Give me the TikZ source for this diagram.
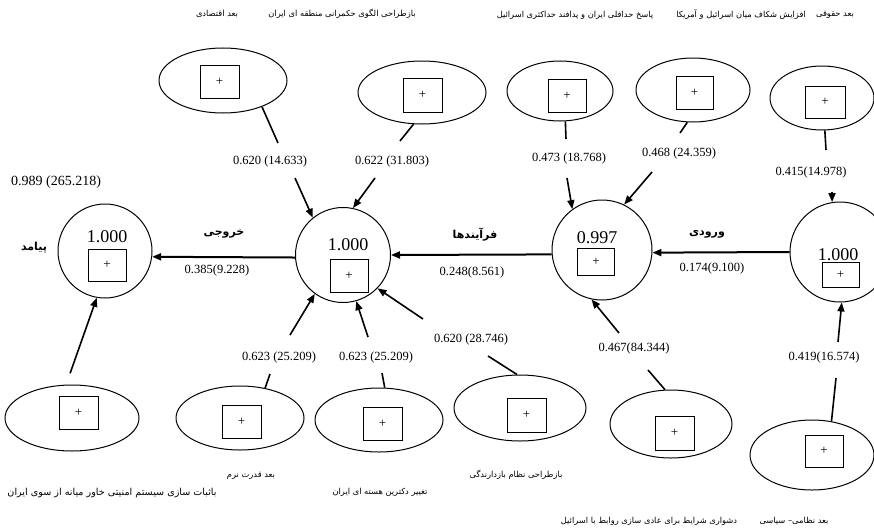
\documentclass[tikz,border=0pt]{standalone}
\usepackage{fontspec}
\setmainfont{Liberation Serif}
\newfontfamily\fafont[Script=Arabic]{DejaVu Sans}
\TeXXeTstate=1
\usetikzlibrary{arrows.meta,shapes.geometric}
\newcommand{\myrtl}[1]{\beginR #1\endR}
\begin{document}
\begin{tikzpicture}[x=1pt,y=-1pt,
  lat/.style={draw, ellipse, line width=1pt, inner sep=0pt},
  bigc/.style={draw, circle, line width=1pt, inner sep=0pt},
  pbox/.style={draw, rectangle, line width=1pt, inner sep=0pt, font=\fontsize{13}{13}\selectfont},
  num/.style={font=\fontsize{12.5}{13}\selectfont, inner sep=1pt},
  val/.style={font=\fontsize{18}{18}\selectfont, inner sep=0pt},
  fatxt/.style={font=\fontsize{8.3}{9}\fafont, inner sep=0pt},
  fabold/.style={font=\fontsize{11}{12}\fafont\bfseries, inner sep=0pt},
  conn/.style={line width=1.6pt},
  arr/.style={line width=1.6pt, -{Triangle[length=9pt,width=7pt]}},
]
\useasboundingbox (0,0) rectangle (874,527);

% big circles
\node[bigc, minimum size=94pt] (Pay) at (105,251) {};
\node[bigc, minimum size=95pt] (P) at (343,255) {};
\node[bigc, minimum size=100pt] (I) at (602,250) {};
\node[bigc, minimum size=100pt] (R) at (840,252) {};

\node[val] (vPay) at (107,237) {1.000};
\node[val] (vP) at (348,245) {1.000};
\node[val] (vI) at (597,238) {0.997};
\node[val] (vR) at (838,255) {1.000};

\node[pbox, minimum width=38pt, minimum height=32pt] (bPay) at (107,265) {+};
\node[pbox, minimum width=38pt, minimum height=33pt] (bP) at (349,275.5) {+};
\node[pbox, minimum width=37pt, minimum height=27pt] (bI) at (596,262) {+};
\node[pbox, minimum width=37pt, minimum height=25pt] (bR) at (840.5,274.5) {+};

% ellipses
\node[lat, minimum width=128pt, minimum height=65pt] (E1) at (223,80.5) {};
\node[lat, minimum width=128pt, minimum height=63pt] (E2) at (422,92.5) {};
\node[lat, minimum width=106pt, minimum height=60pt] (E3) at (560,91) {};
\node[lat, minimum width=114pt, minimum height=64pt] (E4) at (693,90) {};
\node[lat, minimum width=104pt, minimum height=64pt] (E5) at (822,98) {};
\node[lat, minimum width=134pt, minimum height=66pt] (B1) at (72,418) {};
\node[lat, minimum width=128pt, minimum height=64pt] (B2) at (240,418) {};
\node[lat, minimum width=128pt, minimum height=64pt] (B3) at (379,420) {};
\node[lat, minimum width=132pt, minimum height=66pt] (B4) at (520,408) {};
\node[lat, minimum width=122pt, minimum height=68pt] (B5) at (671,424) {};
\node[lat, minimum width=124pt, minimum height=70pt] (B6) at (812,455) {};

\node[pbox, minimum width=39pt, minimum height=33pt] (bE1) at (219.5,81.5) {+};
\node[pbox, minimum width=39pt, minimum height=34pt] (bE2) at (422.5,95) {+};
\node[pbox, minimum width=38pt, minimum height=33pt] (bE3) at (567,95.5) {+};
\node[pbox, minimum width=37pt, minimum height=33pt] (bE4) at (694.5,92.5) {+};
\node[pbox, minimum width=40pt, minimum height=32pt] (bE5) at (825,102) {+};
\node[pbox, minimum width=39pt, minimum height=33pt] (bB1) at (78.5,412.5) {+};
\node[pbox, minimum width=39pt, minimum height=33pt] (bB2) at (241.5,421.5) {+};
\node[pbox, minimum width=39pt, minimum height=33pt] (bB3) at (382.5,423.5) {+};
\node[pbox, minimum width=39pt, minimum height=34pt] (bB4) at (526.5,415) {+};
\node[pbox, minimum width=39pt, minimum height=34pt] (bB5) at (674.5,433) {+};
\node[pbox, minimum width=38pt, minimum height=32pt] (bB6) at (824,451) {+};

% gap coordinates
\coordinate (g1a) at (278,143); \coordinate (g1b) at (295,178);
\coordinate (g2a) at (400,141); \coordinate (g2b) at (375,178);
\coordinate (g3a) at (566,139); \coordinate (g3b) at (567,178);
\coordinate (g4a) at (680,133); \coordinate (g4b) at (652,172);
\coordinate (g5a) at (826,150); \coordinate (g5b) at (832,192);
\coordinate (h2a) at (270,374); \coordinate (h2b) at (290,335);
\coordinate (h3a) at (382,373); \coordinate (h3b) at (368,337);
\coordinate (h4a) at (488,356); \coordinate (h4b) at (423,319);
\coordinate (h5a) at (648,370); \coordinate (h5b) at (619,333);
\coordinate (h6a) at (836,378); \coordinate (h6b) at (838,342);

% connectors
\draw[conn] (E1.-34) -- (g1a); \draw[arr] (g1b) -- (P.129);
\draw[conn] (E2.-105) -- (g2a); \draw[arr] (g2b) -- (P.78);
\draw[conn] (E3.-80) -- (g3a); \draw[arr] (g3b) -- (I.126);
\draw[conn] (E4.-100) -- (g4a); \draw[arr] (g4b) -- (I.64);
\draw[conn] (E5.-85) -- (g5a); \draw[arr] (g5b) -- (R.99);
\draw[arr, shorten <=12pt] (B1.100) -- (Pay.260);
\draw[conn] (B2.50) -- (h2a); \draw[arr] (h2b) -- (P.234);
\draw[conn] (B3.80) -- (h3a); \draw[arr] (h3b) -- (P.286);
\draw[conn] (B4.95) -- (h4a); \draw[arr] (h4b) -- (P.316);
\draw[conn] (B5.100) -- (h5a); \draw[arr] (h5b) -- (I.258);
\draw[conn] (B6.60) -- (h6a); \draw[arr] (h6b) -- (R.272);

\draw[arr, line width=2pt] (R.180) -- (I.-3);
\draw[arr, line width=2pt] (I.185) -- (P.0);
\draw[arr, line width=2pt] (P.183) -- (Pay.353);

% numeric labels
\node[num] (l1) at (270,161) {0.620 (14.633)};
\node[num] (l2) at (392,161) {0.622 (31.803)};
\node[num] (l3) at (569,158) {0.473 (18.768)};
\node[num] (l4) at (679,153) {0.468 (24.359)};
\node[num] (l5) at (811,172) {0.415(14.978)};
\node[num, font=\fontsize{14}{14}\selectfont] (l0) at (56,182) {0.989 (265.218)};
\node[num] (m1) at (217,270) {0.385(9.228)};
\node[num] (m2) at (472,272) {0.248(8.561)};
\node[num] (m3) at (712,268) {0.174(9.100)};
\node[num] (k2) at (279,357) {0.623 (25.209)};
\node[num] (k3) at (376,357) {0.623 (25.209)};
\node[num] (k4) at (471,339) {0.620 (28.746)};
\node[num] (k5) at (634,348) {0.467(84.344)};
\node[num] (k6) at (824,357) {0.419(16.574)};

% bold Persian labels
\node[fabold] (fOut) at (224,234) {\myrtl{خروجی}};
\node[fabold] (fProc) at (475,235) {\myrtl{فرآیندها}};
\node[fabold] (fIn) at (707,234) {\myrtl{ورودی}};
\node[fabold] (fPay) at (34,248) {\myrtl{پیامد}};

% top Persian labels
\node[fatxt] (t1) at (217,14) {\myrtl{بعد اقتصادی}};
\node[fatxt] (t2) at (342,14) {\myrtl{بازطراحی الگوی حکمرانی منطقه ای ایران}};
\node[fatxt] (t3) at (575,15) {\myrtl{پاسخ حداقلی ایران و پدافند حداکثری اسرائیل}};
\node[fatxt] (t4) at (741,15) {\myrtl{افزایش شکاف میان اسرائیل و آمریکا}};
\node[fatxt] (t5) at (835,15) {\myrtl{بعد حقوقی}};

% bottom Persian labels
\node[fatxt, font=\fontsize{9.6}{10}\fafont] (s1) at (112,493) {\myrtl{باثبات سازی سیستم امنیتی خاور میانه از سوی ایران}};
\node[fatxt] (s2) at (251,476) {\myrtl{بعد قدرت نرم}};
\node[fatxt] (s3) at (380,492) {\myrtl{تغییر دکترین هسته ای ایران}};
\node[fatxt] (s4) at (516,475) {\myrtl{بازطراحی نظام بازدارندگی}};
\node[fatxt] (s5) at (649,521) {\myrtl{دشواری شرایط برای عادی سازی روابط با اسرائیل}};
\node[fatxt] (s6) at (794,521) {\myrtl{بعد نظامی– سیاسی}};
\end{tikzpicture}
\end{document}
